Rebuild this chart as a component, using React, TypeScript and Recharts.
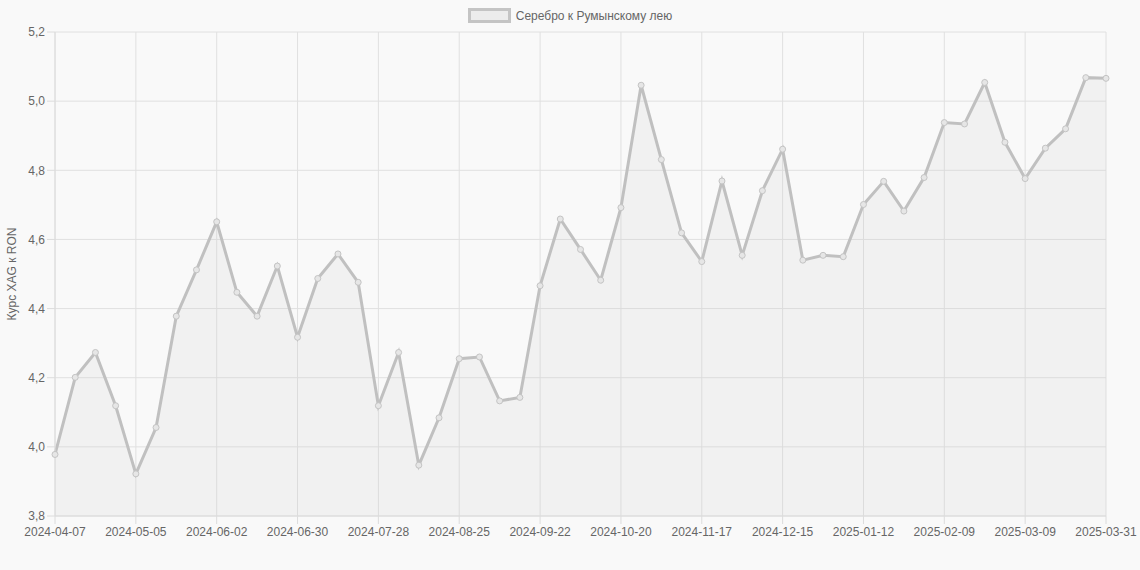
import { AreaChart, Area, XAxis, YAxis, CartesianGrid } from 'recharts';

// даты (недели) и курс серебра к румынскому лею
const dates = [
  '2024-04-07', '2024-04-14', '2024-04-21', '2024-04-28', '2024-05-05', '2024-05-12', '2024-05-19', '2024-05-26',
  '2024-06-02', '2024-06-09', '2024-06-16', '2024-06-23', '2024-06-30', '2024-07-07', '2024-07-14', '2024-07-21',
  '2024-07-28', '2024-08-04', '2024-08-11', '2024-08-18', '2024-08-25', '2024-09-01', '2024-09-08', '2024-09-15',
  '2024-09-22', '2024-09-29', '2024-10-06', '2024-10-13', '2024-10-20', '2024-10-27', '2024-11-03', '2024-11-10',
  '2024-11-17', '2024-11-24', '2024-12-01', '2024-12-08', '2024-12-15', '2024-12-22', '2024-12-29', '2025-01-05',
  '2025-01-12', '2025-01-19', '2025-01-26', '2025-02-02', '2025-02-09', '2025-02-16', '2025-02-23', '2025-03-02',
  '2025-03-09', '2025-03-16', '2025-03-23', '2025-03-30', '2025-03-31',
];

const rates = [
  3.978, 4.201, 4.273, 4.119, 3.922, 4.056, 4.378, 4.512,
  4.651, 4.447, 4.378, 4.523, 4.317, 4.487, 4.558, 4.476,
  4.119, 4.273, 3.947, 4.084, 4.255, 4.260, 4.133, 4.143,
  4.466, 4.659, 4.571, 4.482, 4.692, 5.046, 4.831, 4.619,
  4.536, 4.769, 4.554, 4.741, 4.861, 4.540, 4.554, 4.550,
  4.701, 4.768, 4.682, 4.779, 4.938, 4.934, 5.054, 4.881,
  4.776, 4.864, 4.920, 5.068, 5.066,
];

const xTicks = [
  '2024-04-07', '2024-05-05', '2024-06-02', '2024-06-30', '2024-07-28', '2024-08-25', '2024-09-22',
  '2024-10-20', '2024-11-17', '2024-12-15', '2025-01-12', '2025-02-09', '2025-03-09', '2025-03-31',
];

const yTicks = [3.8, 4.0, 4.2, 4.4, 4.6, 4.8, 5.0, 5.2];

const seriesName = 'Серебро к Румынскому лею';

const data = dates.map((date, i) => ({ date, rate: rates[i] }));

const font = 'Arial, "Liberation Sans", Helvetica, sans-serif';

function TopLegend() {
  return (
    <div
      style={{
        position: 'absolute',
        top: 8,
        left: 0,
        width: 1140,
        display: 'flex',
        justifyContent: 'center',
        alignItems: 'center',
        fontFamily: font,
        fontSize: 12,
        color: '#666',
      }}
    >
      <span
        style={{
          display: 'inline-block',
          width: 37,
          height: 9,
          border: '3px solid #c4c4c4',
          background: '#ececec',
          marginRight: 5,
        }}
      />
      <span>{seriesName}</span>
    </div>
  );
}

export default function App() {
  return (
    <div style={{ position: 'relative', width: 1140, height: 570, background: '#f9f9f9' }}>
      <style>{`body{margin:0;background:#f9f9f9}`}</style>
      <TopLegend />
      <AreaChart width={1140} height={570} data={data} margin={{ top: 32, right: 34, left: 0, bottom: 24 }}>
        <CartesianGrid stroke="#e0e0e0" />
        <XAxis
          dataKey="date"
          scale="point"
          ticks={xTicks}
          interval={0}
          tickSize={8}
          tickMargin={3}
          stroke="#dcdcdc"
          tick={{ fill: '#666', fontSize: 12, fontFamily: font }}
          height={30}
        />
        <YAxis
          domain={[3.8, 5.2]}
          ticks={yTicks}
          width={55}
          tickSize={8}
          tickMargin={2}
          stroke="#dcdcdc"
          tick={{ fill: '#666', fontSize: 12, fontFamily: font }}
          tickFormatter={(v: number) => v.toFixed(1).replace('.', ',')}
          label={{
            value: 'Курс XAG к RON',
            angle: -90,
            position: 'insideLeft',
            offset: 12,
            style: { fill: '#666', fontSize: 12, fontFamily: font, textAnchor: 'middle' },
          }}
        />
        <Area
          type="linear"
          dataKey="rate"
          name={seriesName}
          stroke="#c0c0c0"
          strokeWidth={3}
          fill="#c0c0c0"
          fillOpacity={0.13}
          dot={{ r: 3, stroke: '#c4c4c4', strokeWidth: 1, fill: '#e6e6e6', fillOpacity: 1 }}
          activeDot={false}
          isAnimationActive={false}
        />
      </AreaChart>
    </div>
  );
}
